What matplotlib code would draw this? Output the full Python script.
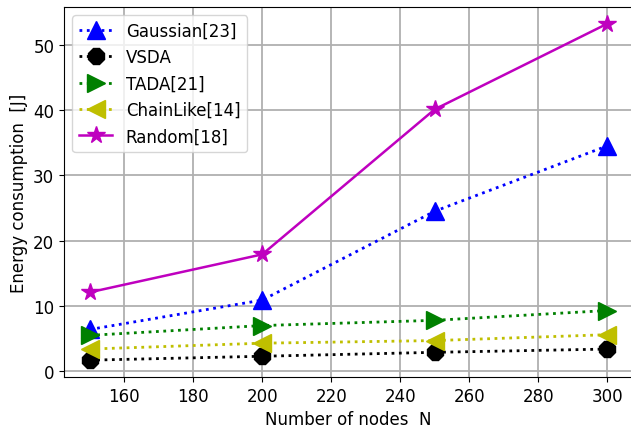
import numpy as np
import matplotlib
matplotlib.use('Agg')
import matplotlib.pyplot as plt

# data
nodes = [150, 200, 250, 300]
gaussian = [6.4, 10.9, 24.5, 34.5]
vsda = [1.7, 2.3, 2.9, 3.4]
tada = [5.5, 7.0, 7.8, 9.3]
chainlike = [3.4, 4.3, 4.7, 5.6]
random_ = [12.1, 17.9, 40.1, 53.2]

fig = plt.figure(figsize=(6.31, 4.31), dpi=100)
ax = fig.add_axes([0.1014, 0.123, 0.9017, 0.8585])
ax.plot(nodes, gaussian, 'b:^', markersize=13, linewidth=2, label='Gaussian[23]')
ax.plot(nodes, vsda, 'k:8', markersize=13, linewidth=2, label='VSDA')
ax.plot(nodes, tada, 'g:>', markersize=13, linewidth=2, label='TADA[21]')
ax.plot(nodes, chainlike, 'y:<', markersize=13, linewidth=2, label='ChainLike[14]')
ax.plot(nodes, random_, 'm-*', markersize=13, linewidth=1.8, label='Random[18]')

ax.set_xlabel('Number of nodes  N', fontsize=12)
ax.set_ylabel('Energy consumption  [J]', fontsize=12)
ax.tick_params(labelsize=12)
ax.grid(True, color='#b0b0b0', linewidth=1.3)
ax.legend(loc='upper left', fontsize=12)
plt.savefig('out.png')
